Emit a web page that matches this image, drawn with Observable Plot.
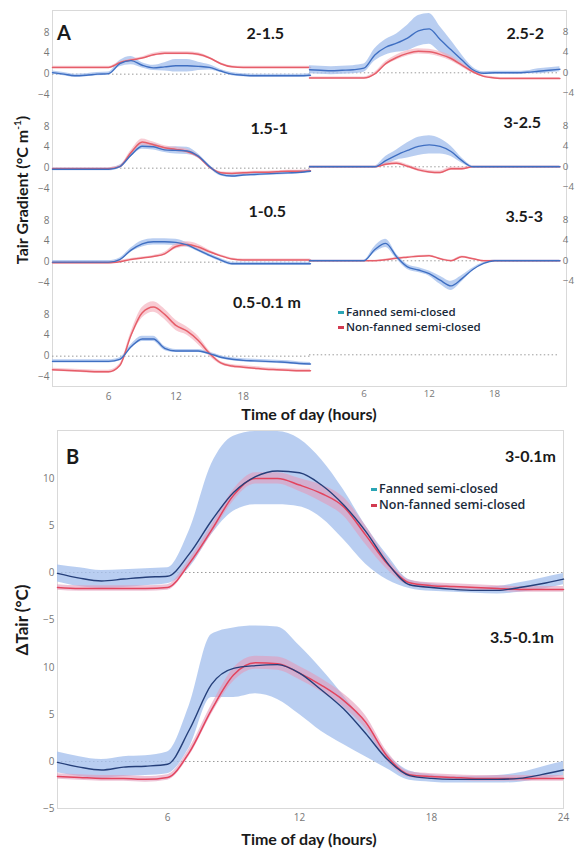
<!DOCTYPE html>
<html><head><meta charset="utf-8">
<script src="https://cdn.jsdelivr.net/npm/d3@7"></script>
<script src="https://cdn.jsdelivr.net/npm/@observablehq/plot@0.6"></script>
<style>
body{margin:0;background:#fff;}
#root{position:relative;width:579px;height:849px;overflow:hidden;font-family:Lato,"Open Sans",sans-serif;background:#fff;}
.cell{position:absolute;}
.frame{position:absolute;border:1px solid #d9d9d9;box-sizing:border-box;}
.lbl{position:absolute;font-weight:bold;color:#1a1a1a;white-space:nowrap;line-height:1;}
.leg{position:absolute;font-family:"Open Sans",sans-serif;font-weight:600;color:#1a2a3a;white-space:nowrap;}
.sw{display:inline-block;width:6px;height:3px;margin-right:2px;vertical-align:middle;}
</style></head><body><div id="root"></div><script>
// ---------- data ----------
const hours = [1,2,3,4,5,6,7,8,9,10,11,12,13,14,15,16,17,18,19,20,21,22,23,24];
const aTicksY = [-4,0,4,8];
const aTicksX = [6,12,18];
const bTicksY = [-5,0,5,10];
const bTicksX = [6,12,18,24];
const seriesNames = ["Fanned semi-closed","Non-fanned semi-closed"];

// Panel A: Tair gradient (°C m-1), mean and half-width of band
const g2_15_fan   = [0.3,0,-0.3,-0.2,0,0.1,2.0,2.6,1.7,1.2,1.4,1.6,1.6,1.5,1.3,0.6,0,-0.2,-0.3,-0.3,-0.3,-0.3,-0.3,-0.2];
const g2_15_fanSd = [0.3,0.3,0.3,0.3,0.3,0.3,0.6,0.8,0.5,0.5,0.8,1.2,1.2,0.8,0.5,0.3,0.3,0.3,0.3,0.3,0.3,0.3,0.3,0.3];
const g2_15_non   = [1.3,1.3,1.3,1.3,1.3,1.3,2.2,2.7,3.1,3.7,4.0,4.0,4.0,3.8,3.1,2.0,1.4,1.3,1.3,1.3,1.3,1.3,1.3,1.3];
const g2_15_nonSd = [0.2,0.2,0.2,0.2,0.2,0.2,0.2,0.2,0.2,0.3,0.3,0.3,0.3,0.3,0.2,0.2,0.2,0.2,0.2,0.2,0.2,0.2,0.2,0.2];

const g25_2_fan   = [0.6,0.5,0.4,0.5,0.6,0.9,3.5,5.0,5.8,6.8,8.2,8.6,6.5,4.5,2.5,0.6,-0.1,0,0,0,0.1,0.3,0.5,0.7];
const g25_2_fanSd = [0.8,0.8,0.8,0.8,0.8,0.8,1.2,1.5,1.8,2.5,3.0,3.0,2.5,1.8,1.0,0.5,0.3,0.3,0.3,0.3,0.3,0.5,0.5,0.5];
const g25_2_non   = [-1.0,-1.0,-1.0,-1.0,-1.0,-1.0,-0.2,1.8,3.0,3.8,4.2,4.1,3.6,2.8,1.5,0.2,-0.7,-1.0,-1.1,-1.1,-1.1,-1.1,-1.1,-1.1];
const g25_2_nonSd = [0.2,0.2,0.2,0.2,0.2,0.2,0.3,0.4,0.5,0.5,0.5,0.5,0.5,0.5,0.4,0.3,0.2,0.2,0.2,0.2,0.2,0.2,0.2,0.2];

const g15_1_fan   = [-0.2,-0.2,-0.2,-0.2,-0.2,-0.2,0.3,2.5,4.2,4.1,3.5,3.4,3.3,2.3,0.3,-1.2,-1.5,-1.3,-1.2,-1.1,-1.0,-0.9,-0.8,-0.6];
const g15_1_fanSd = [0.3,0.3,0.3,0.3,0.3,0.3,0.3,0.4,0.6,0.6,0.5,0.7,0.7,0.4,0.3,0.3,0.3,0.3,0.3,0.3,0.3,0.3,0.3,0.3];
const g15_1_non   = [-0.1,-0.1,-0.1,-0.1,-0.1,-0.1,0.3,3.0,5.0,4.5,3.9,3.6,3.2,2.2,0.2,-0.9,-1.0,-0.9,-0.8,-0.8,-0.7,-0.6,-0.6,-0.5];
const g15_1_nonSd = [0.2,0.2,0.2,0.2,0.2,0.2,0.2,0.4,0.6,0.5,0.4,0.4,0.4,0.3,0.2,0.2,0.2,0.2,0.2,0.2,0.2,0.2,0.2,0.2];

const g3_25_fan   = [0,0,0,0,0,0,0,1.2,2.3,3.2,4.0,4.3,4.0,3.0,1.2,0,0,0,0,0,0,0,0,0];
const g3_25_fanSd = [0.2,0.2,0.2,0.2,0.2,0.2,0.2,0.8,1.0,1.5,1.8,1.8,1.5,1.0,0.5,0.2,0.2,0.2,0.2,0.2,0.2,0.2,0.2,0.2];
const g3_25_non   = [0,0,0,0,0,0,0,0.5,0.7,0.1,-0.6,-1.0,-1.1,-0.4,-0.4,0,0,0,0,0,0,0,0,0];
const g3_25_nonSd = [0.15,0.15,0.15,0.15,0.15,0.15,0.15,0.3,0.3,0.3,0.3,0.3,0.3,0.3,0.3,0.15,0.15,0.15,0.15,0.15,0.15,0.15,0.15,0.15];

const g1_05_fan   = [0,0,0,0,0,0,0.5,2.3,3.5,3.9,3.9,3.8,3.3,2.3,1.3,0.4,-0.3,-0.3,-0.3,-0.3,-0.3,-0.3,-0.3,-0.3];
const g1_05_fanSd = [0.3,0.3,0.3,0.3,0.3,0.3,0.3,0.4,0.6,0.6,0.6,0.6,0.4,0.3,0.3,0.3,0.3,0.3,0.3,0.3,0.3,0.3,0.3,0.3];
const g1_05_non   = [-0.1,-0.1,-0.1,-0.1,-0.1,-0.1,0.1,0.5,0.8,1.1,1.6,3.0,3.4,2.9,2.0,1.2,0.6,0.4,0.4,0.4,0.4,0.4,0.4,0.4];
const g1_05_nonSd = [0.2,0.2,0.2,0.2,0.2,0.2,0.2,0.2,0.2,0.2,0.3,0.5,0.5,0.5,0.3,0.2,0.2,0.2,0.2,0.2,0.2,0.2,0.2,0.2];

const g35_3_fan   = [0,0,0,0,0,0,2.2,3.4,0.8,-1.2,-1.8,-2.5,-3.8,-4.9,-3.5,-1.7,-0.5,0,0,0,0,0,0,0];
const g35_3_fanSd = [0.15,0.15,0.15,0.15,0.15,0.15,0.6,0.8,0.5,0.5,0.5,0.5,0.8,0.9,0.6,0.3,0.15,0.15,0.15,0.15,0.15,0.15,0.15,0.15];
const g35_3_non   = [0,0,0,0,0,0,0,0.2,0.5,0.7,0.9,1.0,0.4,0,0.8,0.4,0,0,0,0,0,0,0,0];
const g35_3_nonSd = [0.1,0.1,0.1,0.1,0.1,0.1,0.1,0.15,0.15,0.15,0.15,0.15,0.15,0.15,0.15,0.15,0.1,0.1,0.1,0.1,0.1,0.1,0.1,0.1];

const g05_01_fan   = [-1.0,-1.0,-1.0,-1.0,-1.0,-1.0,-0.6,1.8,3.3,3.3,1.5,1.0,1.0,1.0,0.5,-0.2,-0.6,-0.8,-0.9,-1.0,-1.1,-1.2,-1.4,-1.5];
const g05_01_fanSd = [0.3,0.3,0.3,0.3,0.3,0.3,0.3,0.4,0.5,0.5,0.4,0.3,0.3,0.3,0.3,0.3,0.3,0.3,0.3,0.3,0.3,0.3,0.3,0.3];
const g05_01_non   = [-2.6,-2.7,-2.8,-2.9,-3.0,-3.0,-1.8,4.0,8.3,9.4,8.0,5.9,4.8,3.0,0.5,-1.3,-1.9,-2.1,-2.3,-2.5,-2.6,-2.7,-2.8,-2.8];
const g05_01_nonSd = [0.3,0.3,0.3,0.3,0.3,0.3,0.3,0.6,1.0,1.0,1.0,1.0,0.8,0.8,0.5,0.3,0.3,0.3,0.3,0.3,0.3,0.3,0.3,0.3];

// Panel B: ΔTair (°C), mean with lower/upper band
const b3_01_fan   = [-0.1,-0.6,-0.9,-0.7,-0.5,-0.4,2.0,5.5,8.5,10.2,10.8,10.6,9.3,7.2,4.4,1.0,-1.3,-1.6,-1.8,-1.9,-1.9,-1.6,-1.2,-0.7];
const b3_01_fanHi = [0.8,0.5,0.2,0.3,0.4,0.5,4.5,11.5,14.5,15,15,14.2,12.0,8.8,5.0,1.8,-0.8,-1.2,-1.5,-1.6,-1.5,-1.1,-0.6,-0.1];
const b3_01_fanLo = [-1.0,-1.5,-1.7,-1.6,-1.4,-1.2,0.5,4.0,6.5,7.2,7.2,7.0,5.8,3.5,0.9,-0.8,-1.7,-2.0,-2.1,-2.2,-2.3,-2.1,-1.8,-1.3];
const b3_01_non   = [-1.6,-1.7,-1.7,-1.7,-1.7,-1.6,1.0,4.5,8.2,10.0,10.0,9.3,8.4,7.0,4.0,0.9,-1.1,-1.4,-1.5,-1.6,-1.7,-1.8,-1.8,-1.8];
const b3_01_nonHi = [-1.3,-1.4,-1.4,-1.4,-1.4,-1.3,1.4,5.0,8.8,10.6,10.6,10.0,9.3,8.0,5.0,1.5,-0.8,-1.1,-1.2,-1.3,-1.4,-1.5,-1.5,-1.5];
const b3_01_nonLo = [-1.9,-2.0,-2.0,-2.0,-2.0,-1.9,0.6,4.0,7.6,9.4,9.4,8.6,7.5,6.0,3.0,0.3,-1.4,-1.7,-1.8,-1.9,-2.0,-2.1,-2.1,-2.1];

const b35_01_fan   = [-0.1,-0.6,-0.9,-0.6,-0.5,-0.3,3.4,8.2,9.9,10.2,10.3,9.4,7.6,5.6,3.0,0.2,-1.5,-1.8,-1.9,-1.9,-1.9,-1.8,-1.4,-0.9];
const b35_01_fanHi = [1.0,0.5,0.2,0.5,0.6,1.0,6.0,13.5,14.2,14.4,14.3,12.3,9.8,7.0,4.0,0.8,-1.0,-1.4,-1.6,-1.6,-1.5,-1.2,-0.6,0];
const b35_01_fanLo = [-1.2,-1.6,-1.8,-1.6,-1.5,-1.3,1.5,6.8,6.8,7.2,6.6,5.0,3.2,1.8,0.5,-0.8,-2.0,-2.2,-2.3,-2.3,-2.3,-2.2,-1.9,-1.5];
const b35_01_non   = [-1.6,-1.7,-1.8,-1.8,-1.9,-1.7,1.0,5.5,9.2,10.5,10.4,9.4,8.1,6.5,4.2,0.5,-1.4,-1.6,-1.7,-1.8,-1.8,-1.8,-1.8,-1.8];
const b35_01_nonHi = [-1.3,-1.4,-1.5,-1.5,-1.6,-1.4,1.4,6.0,9.9,11.2,11.1,10.1,8.8,7.2,4.9,1.0,-1.1,-1.3,-1.4,-1.5,-1.5,-1.5,-1.5,-1.5];
const b35_01_nonLo = [-1.9,-2.0,-2.1,-2.1,-2.2,-2.0,0.6,5.0,8.5,9.8,9.7,8.7,7.4,5.8,3.5,0.0,-1.7,-1.9,-2.0,-2.1,-2.1,-2.1,-2.1,-2.1];

// ---------- build ----------
const root = document.getElementById("root");
function el(cls, css, html){ const d=document.createElement("div"); d.className=cls; Object.assign(d.style, css); if(html!=null) d.innerHTML=html; root.appendChild(d); return d; }

function rowsSd(fan, fanSd, non, nonSd){
  return hours.map((h,i)=>({h, fan:fan[i], fanLo:fan[i]-fanSd[i], fanHi:fan[i]+fanSd[i], non:non[i], nonLo:non[i]-nonSd[i], nonHi:non[i]+nonSd[i]}));
}
function rowsLH(fan, fanLo, fanHi, non, nonLo, nonHi){
  return hours.map((h,i)=>({h, fan:fan[i], fanLo:fanLo[i], fanHi:fanHi[i], non:non[i], nonLo:nonLo[i], nonHi:nonHi[i]}));
}

function cell(o){
  const curve = "monotone-x";
  const marks = [Plot.ruleY([0], {stroke:"#9a9a9a", strokeWidth:1, strokeDasharray:"1.5,2.5"})];
  if (o.rows){
    marks.push(
      Plot.areaY(o.rows, {x:"h", y1:"fanLo", y2:"fanHi", fill:o.blueBand, fillOpacity:0.8, curve}),
      Plot.areaY(o.rows, {x:"h", y1:"nonLo", y2:"nonHi", fill:o.redBand, fillOpacity:0.6, curve}),
      Plot.lineY(o.rows, {x:"h", y:"non", stroke:o.red, strokeWidth:1.5, curve}),
      Plot.lineY(o.rows, {x:"h", y:"fan", stroke:o.blue, strokeWidth:1.4, curve})
    );
  }
  const svg = Plot.plot({
    width:o.width, height:o.height,
    marginTop:0, marginBottom:o.mB||0, marginLeft:o.mL||0, marginRight:o.mR||0,
    style:{background:"transparent", overflow:"visible", fontSize:"10px", color:"#777", fontFamily:"'Open Sans',sans-serif"},
    x:{domain:[1,24], axis:o.xTicks?"bottom":null, ticks:o.xTicks, tickSize:0, tickPadding:5, label:null},
    y:{domain:o.yDomain, axis:o.yAxis||null, ticks:o.yTicks, tickSize:0, tickPadding:3, label:null},
    marks
  });
  const wrap = el("cell", {left:o.left+"px", top:o.top+"px"});
  wrap.appendChild(svg);
}

// frames
el("frame", {left:"52px", top:"10px", width:"515px", height:"377px"});
el("frame", {left:"57px", top:"430px", width:"507px", height:"379px"});

const A = {blue:"#3f6fc2", blueBand:"#a8c2ee", red:"#e65e69", redBand:"#f4a9b6"};
const B = {blue:"#253f7a", blueBand:"#a8c2ee", red:"#e3445e", redBand:"#e39bbb"};
const aY = [-6,12];
const rowTops = [11,105,199,293];
// left column: plot x 52..310
const L = {left:30, width:280, mL:22, mR:0, yAxis:"left"};
// right column: plot x 309..565
const R = {left:309, width:276, mL:0, mR:20, yAxis:"right"};

cell({...A, ...L, top:rowTops[0], height:94, yDomain:aY, yTicks:aTicksY, rows:rowsSd(g2_15_fan,g2_15_fanSd,g2_15_non,g2_15_nonSd)});
cell({...A, ...R, top:rowTops[0], height:94, yDomain:aY, yTicks:aTicksY, rows:rowsSd(g25_2_fan,g25_2_fanSd,g25_2_non,g25_2_nonSd)});
cell({...A, ...L, top:rowTops[1], height:94, yDomain:aY, yTicks:aTicksY, rows:rowsSd(g15_1_fan,g15_1_fanSd,g15_1_non,g15_1_nonSd)});
cell({...A, ...R, top:rowTops[1], height:94, yDomain:aY, yTicks:aTicksY, rows:rowsSd(g3_25_fan,g3_25_fanSd,g3_25_non,g3_25_nonSd)});
cell({...A, ...L, top:rowTops[2], height:94, yDomain:aY, yTicks:aTicksY, rows:rowsSd(g1_05_fan,g1_05_fanSd,g1_05_non,g1_05_nonSd)});
cell({...A, ...R, top:rowTops[2], height:94, yDomain:aY, yTicks:aTicksY, rows:rowsSd(g35_3_fan,g35_3_fanSd,g35_3_non,g35_3_nonSd)});
cell({...A, ...L, top:rowTops[3], height:112, mB:18, yDomain:aY, yTicks:aTicksY, xTicks:aTicksX, rows:rowsSd(g05_01_fan,g05_01_fanSd,g05_01_non,g05_01_nonSd)});
cell({...A, ...R, yAxis:null, top:rowTops[3], height:112, mB:18, yDomain:aY, yTicks:aTicksY, xTicks:aTicksX});

// panel B: plot x 57..563
const BB = {left:27, width:536, mL:30, mR:0, yAxis:"left"};
cell({...B, ...BB, top:430, height:189, yDomain:[-5,15.1], yTicks:bTicksY, rows:rowsLH(b3_01_fan,b3_01_fanLo,b3_01_fanHi,b3_01_non,b3_01_nonLo,b3_01_nonHi)});
cell({...B, ...BB, top:619, height:209, mB:20, yDomain:[-5,15.1], yTicks:bTicksY, xTicks:bTicksX, rows:rowsLH(b35_01_fan,b35_01_fanLo,b35_01_fanHi,b35_01_non,b35_01_nonLo,b35_01_nonHi)});

// ---------- text ----------
function rlabel(text, right, cy, size){ el("lbl", {right:(579-right)+"px", top:(cy-size*0.5)+"px", fontSize:size+"px"}, text); }
function llabel(text, left, cy, size){ el("lbl", {left:left+"px", top:(cy-size*0.5)+"px", fontSize:size+"px"}, text); }
llabel("A", 57, 32, 20);
rlabel("2-1.5", 284, 33, 16);
rlabel("2.5-2", 544, 33, 16);
rlabel("1.5-1", 288, 128, 16);
rlabel("3-2.5", 541, 122, 16);
rlabel("1-0.5", 286, 211, 16);
rlabel("3.5-3", 543, 216, 16);
rlabel("0.5-0.1 m", 301, 302, 16);
llabel("B", 66, 456, 20);
rlabel("3-0.1m", 556, 456, 16);
rlabel("3.5-0.1m", 554, 637, 16);

function ctitle(text, cx, cy, size){ el("lbl", {left:cx+"px", top:cy+"px", fontSize:size+"px", transform:"translate(-50%,-50%)"}, text); }
ctitle("Time of day (hours)", 309, 414, 16);
ctitle("Time of day (hours)", 309, 839, 16);
function vtitle(text, cx, cy, size){ el("lbl", {left:cx+"px", top:cy+"px", fontSize:size+"px", transform:"translate(-50%,-50%) rotate(-90deg)"}, text); }
vtitle("Tair Gradient (°C m<sup style='font-size:10px'>-1</sup>)", 21, 190, 16);
vtitle("ΔTair (°C)", 21, 620, 17);

// legend: one block, two lines
function legend(left, top, size, step){
  const cols = ["#2aa5b5","#d23a50"];
  const html = seriesNames.map((n,i)=>`<span class="sw" style="background:${cols[i]}"></span>${n}`).join("<br>");
  el("leg", {left:left+"px", top:top+"px", fontSize:size+"px", lineHeight:step+"px"}, html);
}
legend(338, 305, 11.5, 14.5);
legend(371, 481, 12.5, 15.5);
</script></body></html>
